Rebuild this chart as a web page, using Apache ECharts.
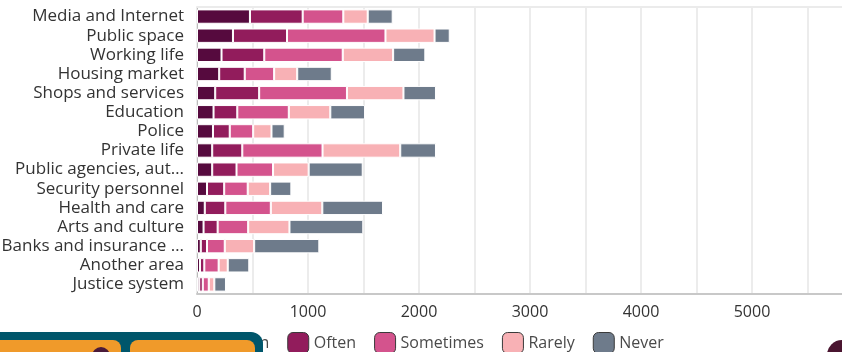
<!DOCTYPE html>
<html>
<head>
<meta charset="utf-8">
<style>
  html, body { margin: 0; padding: 0; background: #ffffff; }
  #chart { width: 842px; height: 352px; }
</style>
<script src="https://cdn.jsdelivr.net/npm/echarts@6/dist/echarts.min.js"></script>
</head>
<body>
<div id="chart"></div>
<script>
// Areas where the experience was reported, top to bottom
const categories = [
  'Media and Internet', 'Public space', 'Working life', 'Housing market',
  'Shops and services', 'Education', 'Police', 'Private life',
  'Public agencies, aut…', 'Security personnel', 'Health and care',
  'Arts and culture', 'Banks and insurance …', 'Another area', 'Justice system'
];

// Number of responses per frequency answer
const veryOften = [477, 324, 221, 200, 164, 149, 144, 137, 137, 90, 70, 59, 34, 27, 20];
const often     = [475, 487, 385, 230, 396, 214, 151, 271, 219, 155, 185, 127, 56, 39, 32];
const sometimes = [366, 887, 707, 265, 791, 464, 211, 723, 329, 212, 410, 275, 160, 129, 54];
const rarely    = [220, 442, 454, 208, 509, 374, 165, 700, 321, 202, 464, 372, 265, 82, 50];
const never     = [225, 137, 290, 311, 293, 313, 119, 322, 487, 191, 547, 665, 587, 194, 105];

const seriesNames = ['Very often', 'Often', 'Sometimes', 'Rarely', 'Never'];
const seriesColors = ['#560a3e', '#921c5c', '#d4538d', '#f8b1b5', '#6e7b8b'];
const xTickLabels = [0, 1000, 2000, 3000, 4000, 5000, 6000];

const FONT = '"Open Sans", "Noto Sans", sans-serif';
const chart = echarts.init(document.getElementById('chart'), null, { renderer: 'canvas' });

const values = [veryOften, often, sometimes, rarely, never];

const option = {
  animation: false,
  backgroundColor: '#ffffff',
  textStyle: { fontFamily: FONT },
  grid: { left: 197, top: 7, width: 666, height: 287, containLabel: false, outerBoundsMode: 'none' },
  legend: {
    data: seriesNames,
    left: 166,
    top: 332,
    padding: 0,
    icon: 'roundRect',
    itemWidth: 21,
    itemHeight: 21,
    itemGap: 18,
    itemStyle: { borderColor: '#3a3a3a', borderWidth: 1 },
    textStyle: { fontFamily: FONT, fontSize: 16, color: '#4a4a4a' }
  },
  xAxis: [{
    type: 'value',
    min: 0,
    max: 6000,
    interval: 500,
    position: 'bottom',
    axisLine: { show: true, lineStyle: { color: '#c8c8c8', width: 2 } },
    axisTick: { show: false },
    splitLine: { show: true, lineStyle: { color: '#e6e6e6', width: 1.5 } },
    axisLabel: {
      margin: 10,
      fontFamily: FONT,
      fontSize: 16,
      color: '#333333',
      formatter: v => (xTickLabels.indexOf(v) >= 0 ? String(v) : '')
    }
  }, {
    type: 'value',
    min: 0,
    max: 6000,
    position: 'top',
    axisLine: { show: true, lineStyle: { color: '#ebebeb', width: 2 } },
    axisTick: { show: false },
    axisLabel: { show: false },
    splitLine: { show: false }
  }],
  yAxis: {
    type: 'category',
    data: categories,
    inverse: true,
    axisLine: { show: true, lineStyle: { color: '#bbbbbb', width: 1 } },
    axisTick: { show: false },
    axisLabel: {
      interval: 0,
      margin: 13,
      fontFamily: FONT,
      fontSize: 17,
      color: '#333333'
    }
  },
  series: seriesNames.map((name, i) => ({
    name: name,
    type: 'bar',
    stack: 'total',
    xAxisIndex: 0,
    barCategoryGap: '25%',
    itemStyle: { color: seriesColors[i], borderColor: '#ffffff', borderWidth: 1 },
    emphasis: { disabled: true },
    data: values[i]
  })),
  graphic: [
    // page widgets overlapping the lower corners
    {
      type: 'rect', z: 100,
      shape: { x: -20, y: 332, width: 283, height: 40, r: [0, 12, 0, 0] },
      style: { fill: '#00566b' }
    },
    {
      type: 'rect', z: 101,
      shape: { x: -20, y: 340, width: 141, height: 30, r: 8 },
      style: { fill: '#f09a2a' }
    },
    {
      type: 'rect', z: 101,
      shape: { x: 130, y: 340, width: 125, height: 30, r: 8 },
      style: { fill: '#f09a2a' }
    },
    {
      type: 'circle', z: 102,
      shape: { cx: 101, cy: 356, r: 9 },
      style: { fill: '#4a1a3a' }
    },
    {
      type: 'circle', z: 102,
      shape: { cx: 842, cy: 355, r: 15 },
      style: { fill: '#4a1530' }
    }
  ]
};

chart.setOption(option);
</script>
</body>
</html>
